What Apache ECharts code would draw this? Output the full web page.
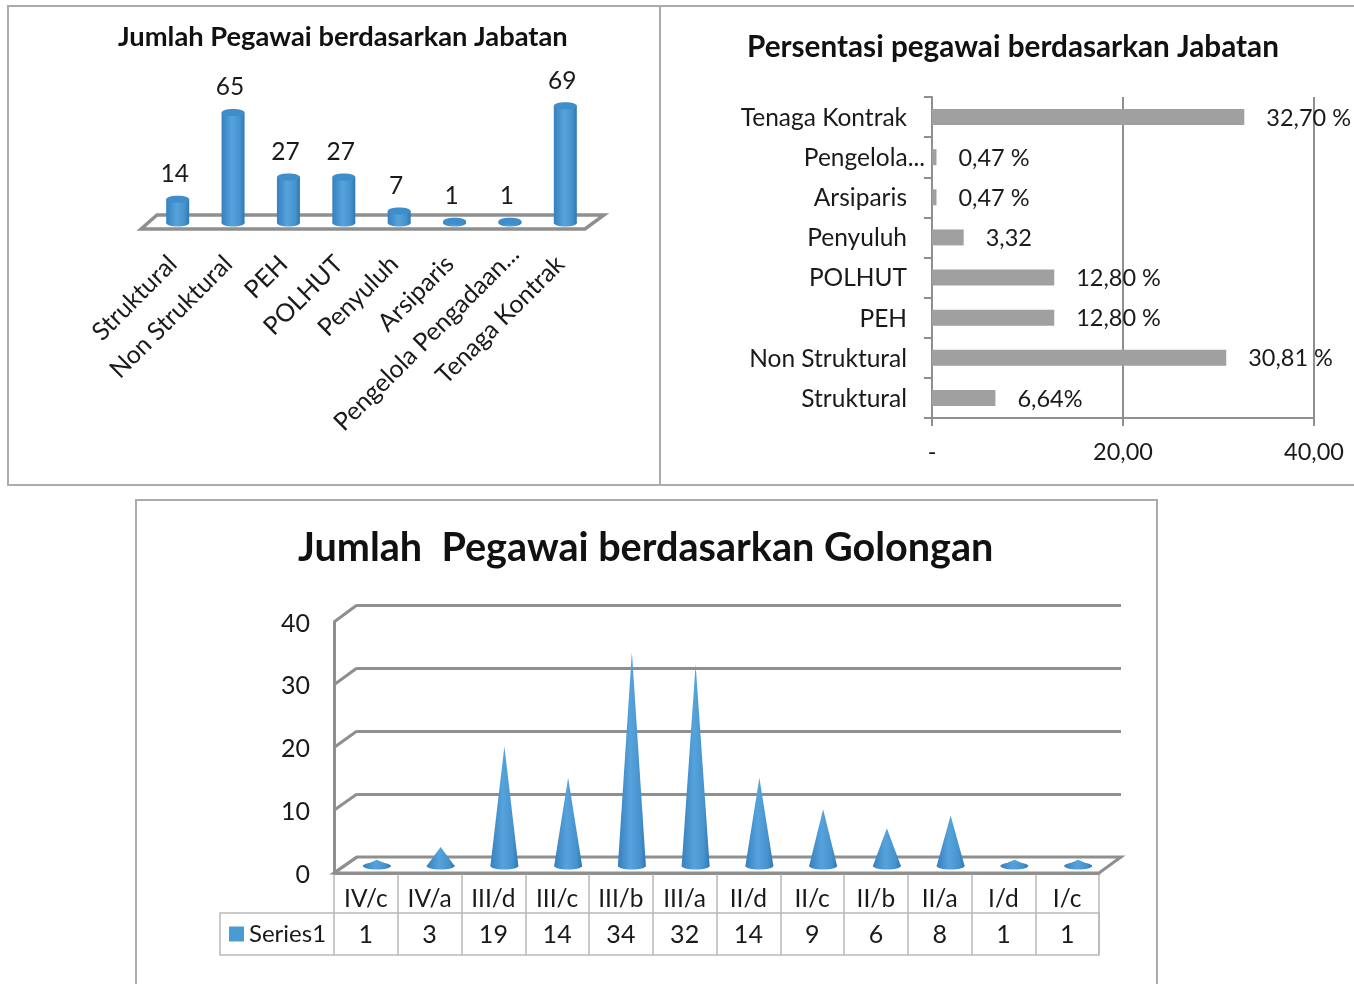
<!DOCTYPE html>
<html>

<head>
    <meta charset="utf-8" />
    <title>Pegawai</title>
    <script src="https://cdn.jsdelivr.net/npm/echarts@6/dist/echarts.min.js"></script>
    <style>
        html, body { margin: 0; padding: 0; background: #fff; }
    </style>
</head>

<body>
    <div id="main" style="width: 1354px; height: 984px;"></div>
    <script type="text/javascript">
        // jumlah per jabatan
        var jabatanNames = ['Struktural', 'Non Struktural', 'PEH', 'POLHUT', 'Penyuluh', 'Arsiparis', 'Pengelola Pengadaan...', 'Tenaga Kontrak']
        var jabatanCounts = [14, 65, 27, 27, 7, 1, 1, 69]

        // persentase per jabatan
        var persenNames = ['Struktural', 'Non Struktural', 'PEH', 'POLHUT', 'Penyuluh', 'Arsiparis', 'Pengelola...', 'Tenaga Kontrak']
        var persenValues = [6.64, 30.81, 12.80, 12.80, 3.32, 0.47, 0.47, 32.70]
        var persenLabels = ['6,64%', '30,81 %', '12,80 %', '12,80 %', '3,32', '0,47 %', '0,47 %', '32,70 %']
        var persenTicks = ['-', '20,00', '40,00']

        // jumlah per golongan
        var golonganNames = ['IV/c', 'IV/a', 'III/d', 'III/c', 'III/b', 'III/a', 'II/d', 'II/c', 'II/b', 'II/a', 'I/d', 'I/c']
        var golonganCounts = [1, 3, 19, 14, 34, 32, 14, 9, 6, 8, 1, 1]
        var golonganLevels = [0, 10, 20, 30, 40]

        var FONT = 'Lato, "Open Sans", sans-serif'
        var GRAY = '#8f8f8f'
        var FRAME = '#ababab'
        var TEXT = '#1a1a1a'

        var myChart = echarts.init(document.getElementById('main'))

        function blueGradient() {
            return new echarts.graphic.LinearGradient(0, 0, 1, 0, [
                { offset: 0, color: '#3580bf' },
                { offset: 0.45, color: '#56a3dc' },
                { offset: 0.8, color: '#4592cd' },
                { offset: 1, color: '#2f78b4' }
            ])
        }

        // silinder + angka di atasnya
        function renderCylinder(params, api) {
            var top = api.coord([api.value(0), api.value(1)])
            var base = api.coord([api.value(0), 0])
            var rx = 11.5
            var ry = 3.5
            var children = [
                { type: 'ellipse', shape: { cx: base[0], cy: base[1], rx: rx, ry: ry }, style: { fill: blueGradient() } },
                { type: 'rect', shape: { x: base[0] - rx, y: top[1], width: rx * 2, height: base[1] - top[1] }, style: { fill: blueGradient() } },
                { type: 'ellipse', shape: { cx: top[0], cy: top[1], rx: rx, ry: ry }, style: { fill: '#3f8ecb' } },
                {
                    type: 'text',
                    style: {
                        text: String(api.value(1)), x: top[0] - 3, y: top[1] - 25,
                        align: 'center', verticalAlign: 'middle',
                        font: '24.5px ' + FONT, fill: TEXT
                    }
                }
            ]
            return { type: 'group', children: children }
        }

        function renderCone(params, api) {
            var tip = api.coord([api.value(0), api.value(1)])
            var base = api.coord([api.value(0), 0])
            var rx = 14
            var ry = 3.5
            return {
                type: 'group',
                children: [
                    { type: 'ellipse', shape: { cx: base[0], cy: base[1], rx: rx, ry: ry }, style: { fill: blueGradient() } },
                    { type: 'polygon', shape: { points: [[tip[0], tip[1]], [base[0] + rx, base[1]], [base[0] - rx, base[1]]] }, style: { fill: blueGradient() } }
                ]
            }
        }

        function frame(x, y, w, h) {
            return { type: 'rect', z: 0, shape: { x: x, y: y, width: w, height: h }, style: { fill: 'none', stroke: FRAME, lineWidth: 2 } }
        }

        function floor(points, width) {
            return { type: 'polygon', z: 1, shape: { points: points }, style: { fill: '#fff', stroke: GRAY, lineWidth: width, lineJoin: 'miter' } }
        }

        var graphics = [
            frame(8, 6, 652, 479),
            frame(660, 6, 720, 479),
            frame(136, 500, 1021, 520),
            floor([[141, 229], [157, 215], [604, 215], [585, 229]], 3.5),
            floor([[334, 873], [357, 857], [1121, 857], [1099, 873]], 3),
            // sel tabel bawah
            { type: 'rect', z: 1, shape: { x: 220, y: 913, width: 879, height: 42 }, style: { fill: 'none', stroke: '#b9b9b9', lineWidth: 1.5 } }
        ]
        // garis kedalaman dinding kiri
        golonganLevels.forEach(function (level, i) {
            graphics.push({
                type: 'line', z: 1,
                shape: { x1: 334, y1: 873 - i * 62.75, x2: 357, y2: 857 - i * 63 },
                style: { stroke: GRAY, lineWidth: 3 }
            })
        })

        function hiddenAxis(type, grid, extra) {
            return Object.assign({ type: type, gridIndex: grid, show: false }, extra)
        }

        var option = {
            animation: false,
            textStyle: { fontFamily: FONT, color: TEXT },
            title: [
                { text: 'Jumlah Pegawai berdasarkan Jabatan', left: 113, top: 19, textStyle: { fontFamily: FONT, fontSize: 27.3, fontWeight: 'bold', color: '#111' } },
                { text: 'Persentasi pegawai berdasarkan Jabatan', left: 742, top: 27, textStyle: { fontFamily: FONT, fontSize: 29.7, fontWeight: 'bold', color: '#111' } },
                { text: 'Jumlah  Pegawai berdasarkan Golongan', left: 293, top: 523, textStyle: { fontFamily: FONT, fontSize: 39.6, fontWeight: 'bold', color: '#111' } }
            ],
            legend: {
                data: ['Series1'], left: 224, top: 917, itemWidth: 15, itemHeight: 15, itemGap: 0,
                icon: 'rect', textStyle: { fontFamily: FONT, fontSize: 24, color: TEXT }
            },
            graphic: { elements: graphics },
            grid: [
                { left: 150, width: 443, top: 104, height: 119 },
                { left: 932, width: 382, top: 97, height: 321 },
                { left: 334, width: 765, top: 622, height: 251 },
                { left: 345, width: 765, top: 614, height: 252 },
                { left: 357, width: 764, top: 605, height: 252 }
            ],
            xAxis: [
                {
                    type: 'category', gridIndex: 0, data: jabatanNames,
                    axisLine: { show: false }, axisTick: { show: false },
                    axisLabel: {
                        rotate: 45, interval: 0, margin: 32,
                        formatter: function (v) { return v == 'Pengelola Pengadaan...' ? '{cut|' + v + '}' : '{n|' + v + '}' },
                        rich: {
                            n: { fontFamily: FONT, fontSize: 25, color: TEXT, padding: [0, 7, 0, 0] },
                            cut: { fontFamily: FONT, fontSize: 25, color: TEXT, padding: [0, -7, 0, 0] }
                        }
                    }
                },
                {
                    type: 'value', gridIndex: 1, min: 0, max: 40, interval: 20,
                    axisLine: { show: true, lineStyle: { color: GRAY, width: 2 } },
                    axisTick: { show: true, length: 8, lineStyle: { color: GRAY, width: 2 } },
                    splitLine: { show: true, lineStyle: { color: GRAY, width: 2 } },
                    axisLabel: {
                        margin: 22, fontFamily: FONT, fontSize: 23.5, color: TEXT,
                        formatter: function (v) { return persenTicks[v / 20] }
                    }
                },
                {
                    type: 'category', gridIndex: 2, data: golonganNames,
                    axisLine: { show: true, lineStyle: { color: GRAY, width: 3 } },
                    axisTick: { show: true, length: 40, lineStyle: { color: '#b9b9b9', width: 1.5 } },
                    axisLabel: { interval: 0, margin: 14, fontFamily: FONT, fontSize: 24.5, color: TEXT }
                },
                {
                    type: 'category', gridIndex: 2, position: 'bottom', offset: 40, data: golonganCounts.map(String),
                    axisLine: { show: false },
                    axisTick: { show: true, length: 42, lineStyle: { color: '#b9b9b9', width: 1.5 } },
                    axisLabel: { interval: 0, margin: 9, fontFamily: FONT, fontSize: 25, color: TEXT }
                },
                hiddenAxis('category', 3, { data: golonganNames }),
                hiddenAxis('value', 4, { min: 0, max: 1 })
            ],
            yAxis: [
                hiddenAxis('value', 0, { min: 0, max: 70 }),
                {
                    type: 'category', gridIndex: 1, data: persenNames,
                    axisLine: { show: true, lineStyle: { color: GRAY, width: 2 } },
                    axisTick: { show: true, length: 8, lineStyle: { color: GRAY, width: 2 } },
                    axisLabel: {
                        interval: 0, margin: 7,
                        // label yang terpotong memang menjorok ke kanan di gambar asli
                        formatter: function (v) { return v == 'Pengelola...' ? '{cut|' + v + '}' : '{n|' + v + '}' },
                        rich: {
                            n: { fontFamily: FONT, fontSize: 24.5, color: TEXT, padding: [2, 18, 0, 0] },
                            cut: { fontFamily: FONT, fontSize: 24.5, color: TEXT, padding: [2, 0, 0, 0] }
                        }
                    }
                },
                {
                    type: 'value', gridIndex: 2, min: 0, max: 40, interval: 10,
                    axisLine: { show: true, lineStyle: { color: GRAY, width: 3 } },
                    axisTick: { show: false }, splitLine: { show: false },
                    axisLabel: {
                        margin: 24,
                        formatter: function (v) { return '{v|' + v + '}' },
                        rich: { v: { fontFamily: FONT, fontSize: 25, color: TEXT, padding: [3, 0, 0, 0] } }
                    }
                },
                hiddenAxis('value', 3, { min: 0, max: 40 }),
                {
                    type: 'value', gridIndex: 4, min: 0, max: 40, interval: 10,
                    axisLine: { show: false }, axisTick: { show: false }, axisLabel: { show: false },
                    splitLine: { show: true, lineStyle: { color: GRAY, width: 3 } }
                }
            ],
            series: [
                {
                    type: 'custom', name: 'Jabatan', xAxisIndex: 0, yAxisIndex: 0, z: 3, clip: false,
                    renderItem: renderCylinder, encode: { x: 0, y: 1 },
                    data: jabatanCounts.map(function (v, i) { return [i, v] })
                },
                {
                    type: 'bar', name: 'Persentasi', xAxisIndex: 1, yAxisIndex: 1, barWidth: 16, z: 3,
                    itemStyle: { color: '#a0a0a0' },
                    label: {
                        show: true, position: 'right', distance: 22, offset: [0, 1], fontFamily: FONT, fontSize: 23.5, color: TEXT,
                        formatter: function (p) { return persenLabels[p.dataIndex] }
                    },
                    data: persenValues
                },
                {
                    type: 'custom', name: 'Series1', xAxisIndex: 4, yAxisIndex: 3, z: 3, clip: false,
                    itemStyle: { color: '#4a9ad4' },
                    renderItem: renderCone, encode: { x: 0, y: 1 },
                    data: golonganCounts.map(function (v, i) { return [i, v] })
                }
            ]
        }
        myChart.setOption(option)
    </script>
</body>

</html>
